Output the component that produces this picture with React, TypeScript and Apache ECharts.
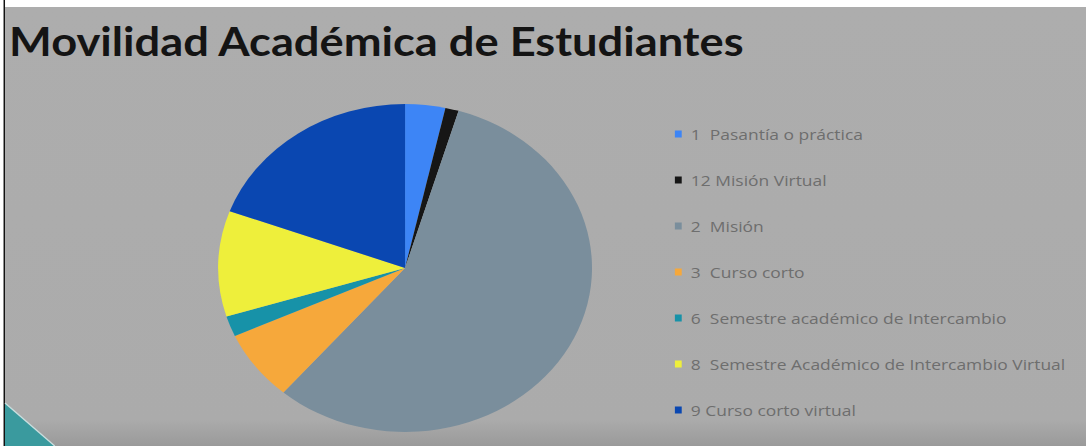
import React, { useEffect, useRef } from "react";
import * as echarts from "echarts";

const categories = [
  "1  Pasantía o práctica",
  "12 Misión Virtual",
  "2  Misión",
  "3  Curso corto",
  "6  Semestre académico de Intercambio",
  "8  Semestre Académico de Intercambio Virtual",
  "9 Curso corto virtual",
];
const values = [12, 4, 196, 24, 7, 36, 67];
const colors = ["#3d85f6", "#161616", "#7a8e9c", "#f6a83b", "#1792a8", "#eeef3b", "#0a47b1"];
const titleText = "Movilidad Académica de Estudiantes";

const SX = 1.14;
const W = Math.round(1086 / SX);
const H = 446;

export default function App() {
  const ref = useRef<HTMLDivElement>(null);
  useEffect(() => {
    if (!ref.current) return;
    const chart = echarts.init(ref.current, null, { renderer: "svg" });
    chart.setOption({
      animation: false,
      backgroundColor: "#ffffff",
      title: {
        text: titleText,
        left: 8,
        top: 21,
        padding: 0,
        textStyle: { fontFamily: "Lato", fontWeight: "bold", fontSize: 39.7, color: "#141414" },
      },
      legend: {
        orient: "vertical",
        left: 592,
        top: 126,
        itemWidth: 6,
        itemHeight: 7,
        itemGap: 30,
        icon: "rect",
        padding: 0,
        data: categories,
        textStyle: {
          fontFamily: "Open Sans",
          fontSize: 15.3,
          lineHeight: 16,
          color: "#6e6e6e",
          padding: [0, 0, 0, 3],
        },
      },
      graphic: [
        { type: "rect", silent: true, z: -10, shape: { x: 3.1, y: 0, width: 1.3, height: H }, style: { fill: "#111" } },
        {
          type: "rect",
          silent: true,
          z: -10,
          shape: { x: 4.4, y: 7, width: W, height: H - 7 },
          style: {
            fill: new echarts.graphic.LinearGradient(0, 0, 0, 1, [
              { offset: 0, color: "#adadad" },
              { offset: 0.94, color: "#ababab" },
              { offset: 1, color: "#9a9a9a" },
            ]),
          },
        },
        {
          type: "polygon",
          silent: true,
          z: -5,
          shape: { points: [[4.4, 403], [4.4, 446], [48, 446]] },
          style: { fill: "#3a9a9e" },
        },
        {
          type: "line",
          silent: true,
          z: -5,
          shape: { x1: 4.4, y1: 403, x2: 48, y2: 446 },
          style: { stroke: "#c9dede", lineWidth: 1.2 },
        },
      ],
      series: [
        {
          type: "pie",
          center: [355.3, 268],
          radius: 164,
          startAngle: 90,
          clockwise: true,
          silent: true,
          label: { show: false },
          labelLine: { show: false },
          itemStyle: { borderWidth: 0 },
          data: categories.map((name, i) => ({ name, value: values[i], itemStyle: { color: colors[i] } })),
        },
      ],
    });
    return () => chart.dispose();
  }, []);
  return (
    <div
      ref={ref}
      style={{
        position: "fixed",
        left: 0,
        top: 0,
        width: W,
        height: H,
        transform: `scaleX(${SX})`,
        transformOrigin: "0 0",
      }}
    />
  );
}
